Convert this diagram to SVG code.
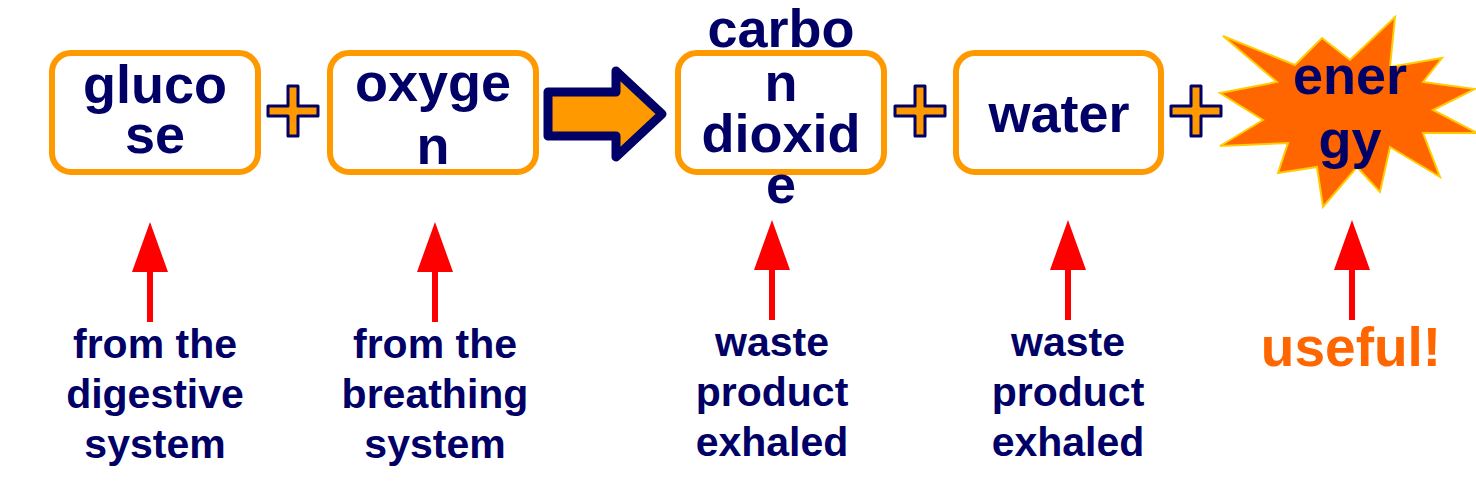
<svg xmlns="http://www.w3.org/2000/svg" width="1476" height="481" viewBox="0 0 1476 481">
<style>
.box{fill:#fff;stroke:#FF9900;stroke-width:6}
.big{font-family:"Liberation Sans",Arial,sans-serif;font-weight:bold;font-size:54px;fill:#000066;text-anchor:middle}
.lbl{font-family:"Liberation Sans",Arial,sans-serif;font-weight:bold;font-size:41px;fill:#000066;text-anchor:middle}
.use{font-family:"Liberation Sans",Arial,sans-serif;font-weight:bold;font-size:55px;fill:#FF6600;text-anchor:middle}
.plus{fill:#FF9900;stroke:#000066;stroke-width:3;stroke-linejoin:round}
.red{fill:#FF0000}
</style>
<defs>
<path id="plusShape" d="M-5,-25 H5 V-5 H25 V5 H5 V25 H-5 V5 H-25 V-5 H-5 Z"/>
<g id="upArrow"><path d="M0,-100 L18,-50 H3 V0 H-3 V-50 H-18 Z"/></g>
</defs>
<rect width="1476" height="481" fill="#fff"/>

<g id="connectors">
<use href="#plusShape" class="plus" x="293" y="111"/>
<use href="#plusShape" class="plus" x="920" y="111"/>
<use href="#plusShape" class="plus" x="1196" y="111"/>
<path d="M548,92 H616 V71 L662,114 L616,157 V136 H548 Z" fill="#FF9900" stroke="#000066" stroke-width="9" stroke-linejoin="round"/>
<use href="#upArrow" class="red" x="150" y="322"/>
<use href="#upArrow" class="red" x="435" y="322"/>
<use href="#upArrow" class="red" x="772" y="320"/>
<use href="#upArrow" class="red" x="1068" y="320"/>
<use href="#upArrow" class="red" x="1352" y="320"/>
</g>

<g id="glucose">
<rect class="box" x="52" y="53" width="206" height="119" rx="19"/>
<text class="big" x="155" y="103">gluco</text>
<text class="big" x="155" y="153">se</text>
</g>
<g id="oxygen">
<rect class="box" x="330" y="53" width="206" height="119" rx="19"/>
<text class="big" x="433" y="101">oxyge</text>
<text class="big" x="433" y="164">n</text>
</g>
<g id="carbon-dioxide">
<rect class="box" x="678" y="53" width="206" height="119" rx="19"/>
<text class="big" x="781" y="47">carbo</text>
<text class="big" x="781" y="101">n</text>
<text class="big" x="781" y="152">dioxid</text>
<text class="big" x="781" y="203">e</text>
</g>
<g id="water">
<rect class="box" x="956" y="53" width="205" height="119" rx="19"/>
<text class="big" x="1059" y="132">water</text>
</g>
<g id="energy">
<path d="M1223,36 L1295,65 L1322,38 L1350,60 L1395,17 L1390,67 L1442,58 L1423,82 L1475,89 L1433,110 L1477,133 L1423,133 L1440,177 L1390,147 L1380,192 L1357,167 L1323,207 L1317,167 L1278,173 L1288,143 L1220,146 L1263,120 L1220,93 L1277,82 Z" fill="#FF6600" stroke="#FFCC00" stroke-width="2" stroke-linejoin="miter"/>
<text class="big" x="1350" y="94">ener</text>
<text class="big" x="1350" y="158">gy</text>
</g>

<g id="label-glucose">
<text class="lbl" x="155" y="358">from the</text>
<text class="lbl" x="155" y="408">digestive</text>
<text class="lbl" x="155" y="458">system</text>
</g>
<g id="label-oxygen">
<text class="lbl" x="435" y="358">from the</text>
<text class="lbl" x="435" y="408">breathing</text>
<text class="lbl" x="435" y="458">system</text>
</g>
<g id="label-co2">
<text class="lbl" x="772" y="356">waste</text>
<text class="lbl" x="772" y="406">product</text>
<text class="lbl" x="772" y="456">exhaled</text>
</g>
<g id="label-water">
<text class="lbl" x="1068" y="356">waste</text>
<text class="lbl" x="1068" y="406">product</text>
<text class="lbl" x="1068" y="456">exhaled</text>
</g>
<g id="label-energy">
<text class="use" x="1351" y="366">useful!</text>
</g>
</svg>
